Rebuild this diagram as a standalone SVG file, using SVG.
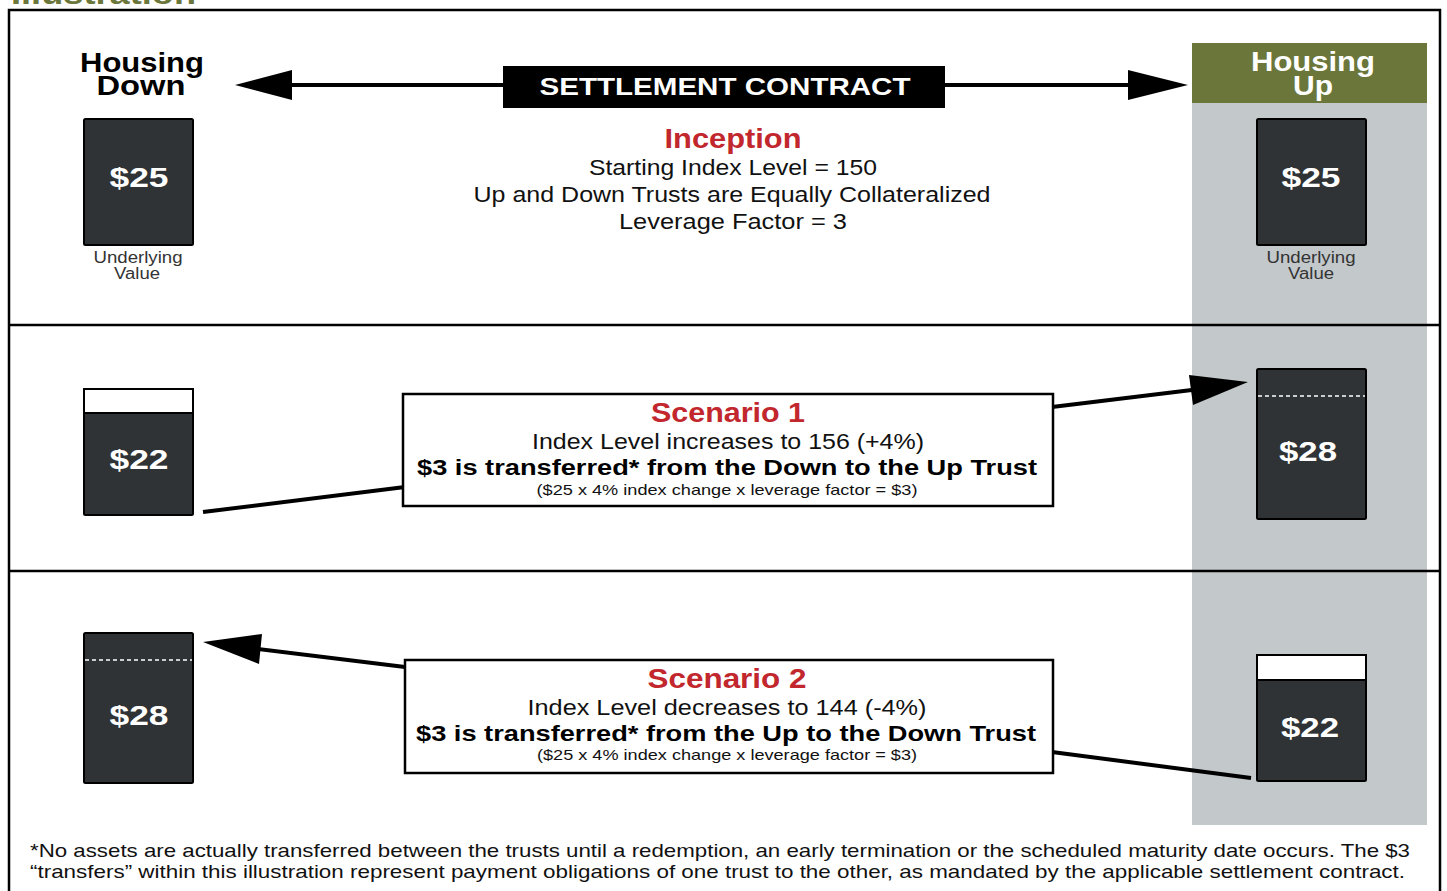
<svg xmlns="http://www.w3.org/2000/svg" width="1447" height="891" viewBox="0 0 1447 891">
<style>
text{font-family:"Liberation Sans",Arial,sans-serif}
.frame{fill:none;stroke:#000;stroke-width:2.5}
.div{stroke:#000;stroke-width:2.5}
.box{fill:#2f3336;stroke:#000;stroke-width:2}
.emp{fill:#fff;stroke:#000;stroke-width:2}
.dash{stroke:#fff;stroke-width:1.6;stroke-dasharray:4,3}
.val{fill:#fff;font-weight:bold;font-size:28px;text-anchor:middle}
.lab{fill:#333;font-size:16px;text-anchor:middle}
.hd{font-weight:bold;font-size:27px;text-anchor:middle}
.red{fill:#c1272d;font-weight:bold;font-size:27px;text-anchor:middle}
.body{fill:#111;font-size:22px;text-anchor:middle}
.bold{fill:#000;font-weight:bold;font-size:22px;text-anchor:middle}
.small{fill:#111;font-size:15px;text-anchor:middle}
.sbox{fill:#fff;stroke:#000;stroke-width:2.5}
.conn{stroke:#000;stroke-width:4;fill:none}
.foot{fill:#111;font-size:18.5px}
</style>
<rect width="1447" height="891" fill="#fff"/>
<text x="11" y="4" font-size="30" font-weight="bold" fill="#6b763a" textLength="185" lengthAdjust="spacingAndGlyphs">Illustration</text>
<rect class="frame" x="9" y="10" width="1431" height="900"/>
<g id="up-column">
<rect x="1192" y="103" width="235" height="722" fill="#c3c8cb"/>
<rect x="1192" y="43" width="235" height="60" fill="#6b763a"/>
<text class="hd" x="1313" y="71" fill="#fff" textLength="124" lengthAdjust="spacingAndGlyphs">Housing</text>
<text class="hd" x="1313" y="95" fill="#fff" textLength="40" lengthAdjust="spacingAndGlyphs">Up</text>
</g>
<line class="div" x1="9" y1="325" x2="1440" y2="325"/>
<line class="div" x1="9" y1="571" x2="1440" y2="571"/>
<g id="down-header">
<text class="hd" x="142" y="72" textLength="124" lengthAdjust="spacingAndGlyphs">Housing</text>
<text class="hd" x="141" y="95" textLength="89" lengthAdjust="spacingAndGlyphs">Down</text>
</g>
<g id="settlement">
<rect x="503" y="66" width="442" height="42" fill="#000"/>
<text x="725" y="95" fill="#fff" font-weight="bold" font-size="24" text-anchor="middle" textLength="371" lengthAdjust="spacingAndGlyphs">SETTLEMENT CONTRACT</text>
</g>
<g id="inception">
<text class="red" x="733" y="148" textLength="137" lengthAdjust="spacingAndGlyphs">Inception</text>
<text class="body" x="733" y="175" textLength="288" lengthAdjust="spacingAndGlyphs">Starting Index Level = 150</text>
<text class="body" x="732" y="202" textLength="517" lengthAdjust="spacingAndGlyphs">Up and Down Trusts are Equally Collateralized</text>
<text class="body" x="733" y="229" textLength="228" lengthAdjust="spacingAndGlyphs">Leverage Factor = 3</text>
</g>
<g id="down-inception">
<rect class="box" x="84" y="119" width="109" height="126" rx="1.5"/>
<text class="val" x="139" y="187" textLength="59" lengthAdjust="spacingAndGlyphs">$25</text>
<text class="lab" x="138" y="263" textLength="89" lengthAdjust="spacingAndGlyphs">Underlying</text>
<text class="lab" x="137" y="279" textLength="46" lengthAdjust="spacingAndGlyphs">Value</text>
</g>
<g id="up-inception">
<rect class="box" x="1257" y="119" width="109" height="126" rx="1.5"/>
<text class="val" x="1311" y="187" textLength="59" lengthAdjust="spacingAndGlyphs">$25</text>
<text class="lab" x="1311" y="263" textLength="89" lengthAdjust="spacingAndGlyphs">Underlying</text>
<text class="lab" x="1311" y="279" textLength="46" lengthAdjust="spacingAndGlyphs">Value</text>
</g>
<g id="down-s1">
<rect class="box" x="84" y="389" width="109" height="126" rx="1.5"/>
<rect class="emp" x="84" y="389" width="109" height="24"/>
<text class="val" x="139" y="469" textLength="59" lengthAdjust="spacingAndGlyphs">$22</text>
</g>
<g id="up-s1">
<rect class="box" x="1257" y="369" width="109" height="150" rx="1.5"/>
<line class="dash" x1="1258" y1="396" x2="1365" y2="396"/>
<text class="val" x="1308" y="461" textLength="58" lengthAdjust="spacingAndGlyphs">$28</text>
</g>
<g id="down-s2">
<rect class="box" x="84" y="633" width="109" height="150" rx="1.5"/>
<line class="dash" x1="85" y1="660" x2="192" y2="660"/>
<text class="val" x="139" y="725" textLength="59" lengthAdjust="spacingAndGlyphs">$28</text>
</g>
<g id="up-s2">
<rect class="box" x="1257" y="655" width="109" height="126" rx="1.5"/>
<rect class="emp" x="1257" y="655" width="109" height="25"/>
<text class="val" x="1310" y="737" textLength="58" lengthAdjust="spacingAndGlyphs">$22</text>
</g>
<g id="connectors">
<line class="conn" x1="290" y1="85" x2="505" y2="85"/>
<line class="conn" x1="943" y1="85" x2="1132" y2="85"/>
<polygon points="235,85 292,70 292,100" fill="#000"/>
<polygon points="1188,85 1128,70 1128,100" fill="#000"/>
<line class="conn" x1="203" y1="512" x2="405" y2="487"/>
<line class="conn" x1="1052" y1="407" x2="1200" y2="389"/>
<polygon points="1248,382 1189,375 1193,405" fill="#000"/>
<line class="conn" x1="405" y1="667" x2="250" y2="648"/>
<polygon points="203,642 262,634 259,664" fill="#000"/>
<line class="conn" x1="1052" y1="752" x2="1251" y2="778"/>
</g>
<g id="scenario1">
<rect class="sbox" x="403" y="394" width="650" height="112"/>
<text class="red" x="728" y="422" font-size="26" textLength="154" lengthAdjust="spacingAndGlyphs">Scenario 1</text>
<text class="body" x="728" y="449" textLength="392" lengthAdjust="spacingAndGlyphs">Index Level increases to 156 (+4%)</text>
<text class="bold" x="727" y="475" textLength="620" lengthAdjust="spacingAndGlyphs">$3 is transferred* from the Down to the Up Trust</text>
<text class="small" x="727" y="495" textLength="381" lengthAdjust="spacingAndGlyphs">($25 x 4% index change x leverage factor = $3)</text>
</g>
<g id="scenario2">
<rect class="sbox" x="405" y="660" width="648" height="113"/>
<text class="red" x="727" y="688" font-size="26" textLength="159" lengthAdjust="spacingAndGlyphs">Scenario 2</text>
<text class="body" x="727" y="715" textLength="399" lengthAdjust="spacingAndGlyphs">Index Level decreases to 144 (-4%)</text>
<text class="bold" x="726" y="741" textLength="620" lengthAdjust="spacingAndGlyphs">$3 is transferred* from the Up to the Down Trust</text>
<text class="small" x="727" y="760" textLength="380" lengthAdjust="spacingAndGlyphs">($25 x 4% index change x leverage factor = $3)</text>
</g>
<g id="footnote">
<text class="foot" x="30" y="857" textLength="1380" lengthAdjust="spacingAndGlyphs">*No assets are actually transferred between the trusts until a redemption, an early termination or the scheduled maturity date occurs.  The $3</text>
<text class="foot" x="30" y="878" textLength="1375" lengthAdjust="spacingAndGlyphs">“transfers” within this illustration represent payment obligations of one trust to the other, as mandated by the applicable settlement contract.</text>
</g>
</svg>
